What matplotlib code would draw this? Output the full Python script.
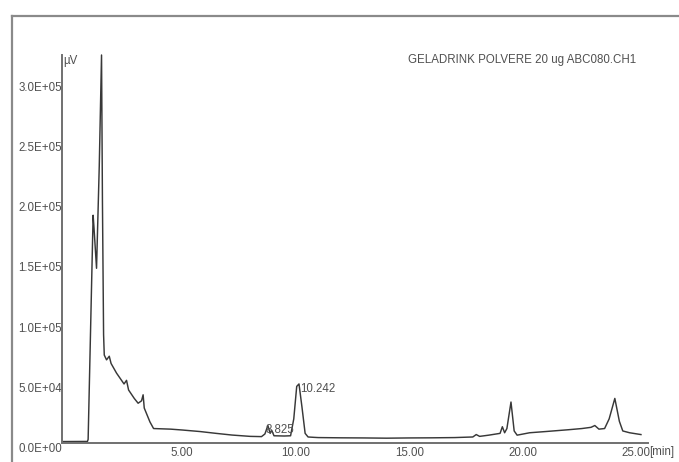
import matplotlib
matplotlib.use("Agg")
import matplotlib.pyplot as plt
from matplotlib.lines import Line2D

# --- chromatogram trace (time in min, signal in uV) ---
time_min = [-0.28, 0.84, 0.87, 1.09, 1.13, 1.24, 1.36, 1.46, 1.50, 1.55, 1.58,
            1.68, 1.80, 1.88, 2.12, 2.45, 2.56, 2.65, 2.90, 3.07, 3.22, 3.29,
            3.34, 3.59, 3.75, 4.50, 5.00, 5.80, 6.50, 7.20, 8.00, 8.50, 8.65,
            8.78, 8.88, 8.95, 9.05, 9.50, 9.78, 9.92, 10.05, 10.15, 10.28,
            10.42, 10.55, 10.80, 11.0, 12.0, 13.0, 14.0, 15.0, 16.0, 17.0,
            17.8, 17.95, 18.1, 18.5, 19.0, 19.1, 19.2, 19.3, 19.48, 19.62,
            19.75, 20.3, 21.0, 22.0, 22.6, 23.0, 23.17, 23.35, 23.6, 23.8,
            24.05, 24.25, 24.4, 24.7, 25.2]
signal_uv = [1200, 1300, 3000, 189000, 178000, 145000, 230000, 322000, 200000,
             90000, 73000, 69000, 72000, 66000, 58000, 49000, 52000, 44000,
             37000, 33000, 35000, 40000, 29000, 17500, 12000, 11500, 10800,
             9500, 8000, 6600, 5500, 5300, 7500, 14500, 8000, 10500, 6000,
             5800, 6000, 20000, 47000, 49000, 30000, 8000, 5000, 4700, 4500,
             4300, 4200, 4000, 4200, 4300, 4500, 5000, 7000, 5500, 6500, 8000,
             13500, 8500, 12000, 34000, 10000, 6500, 8500, 9500, 11000, 12000,
             13000, 14500, 11500, 12000, 20000, 37000, 18000, 10000, 8500, 7000]

x_ticks = [5, 10, 15, 20, 25]
x_labels = ["5.00", "10.00", "15.00", "20.00", "25.00"]
y_ticks = [0, 50000, 100000, 150000, 200000, 250000, 300000]
y_labels = ["0.0E+00", "5.0E+04", "1.0E+05", "1.5E+05", "2.0E+05", "2.5E+05", "3.0E+05"]

peak_labels = ["8.825", "10.242"]
peak_label_pos = [(8.67, 10800), (10.22, 44900)]

title = "GELADRINK POLVERE 20 ug ABC080.CH1"

plt.rcParams['font.family'] = ['Liberation Sans', 'DejaVu Sans']
TXT = '#505050'
FS = 8.3

W, H = 679, 462
fig = plt.figure(figsize=(W / 100, H / 100), dpi=100)

# outer frame (only top and left edges visible)
fig.add_artist(Line2D([12 / W, 12 / W], [0, 1 - 16 / H], transform=fig.transFigure,
                      color='#8a8a8a', lw=1.6))
fig.add_artist(Line2D([12 / W, 1], [1 - 16 / H, 1 - 16 / H], transform=fig.transFigure,
                      color='#8a8a8a', lw=1.6))

left, right, top, bottom = 62, 648, 55, 443
ax = fig.add_axes([left / W, (H - bottom) / H, (right - left) / W, (bottom - top) / H])

ax.plot(time_min, signal_uv, color='#383838', lw=1.05, clip_on=False)

ax.set_xlim(-0.28, 25.51)
ax.set_ylim(0, 3.22e5)

for s in ['top', 'right']:
    ax.spines[s].set_visible(False)
for s in ['left', 'bottom']:
    ax.spines[s].set_color('#707070')
    ax.spines[s].set_linewidth(1.4)

ax.set_xticks(x_ticks)
ax.set_xticklabels(x_labels)
ax.set_yticks(y_ticks)
ax.set_yticklabels(y_labels, va='top')
ax.tick_params(axis='both', length=0, labelsize=FS, labelcolor=TXT)
ax.tick_params(axis='x', pad=3)
ax.tick_params(axis='y', pad=0)

# units
ax.text(25.55, -2500, "[min]", ha='left', va='top', fontsize=FS, color=TXT)
ax.text(0.002, 1.0, "\u00b5V", transform=ax.transAxes, ha='left', va='top',
        fontsize=FS, color=TXT)

for lab, (px, py) in zip(peak_labels, peak_label_pos):
    ax.text(px, py, lab, ha='left', va='center', fontsize=FS, color=TXT)

fig.text(408 / W, 1 - 60 / H, title, ha='left', va='center', fontsize=FS, color=TXT)

fig.savefig("out.png", dpi=100)
